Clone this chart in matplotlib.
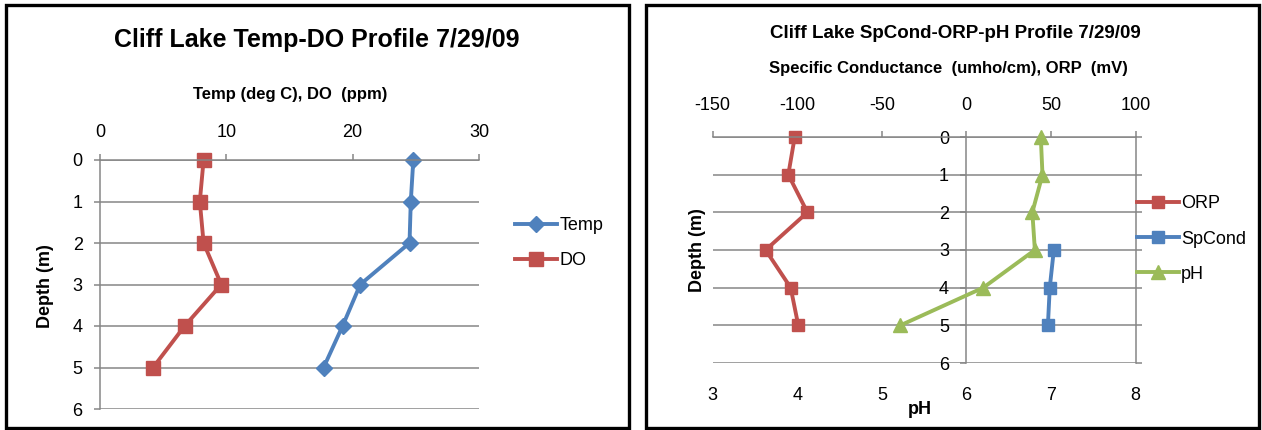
import matplotlib
matplotlib.use('Agg')
import matplotlib.pyplot as plt
from matplotlib.patches import Rectangle

#     *****     data     *****
depth = [0, 1, 2, 3, 4, 5]
temp = [24.8, 24.6, 24.5, 20.6, 19.2, 17.7]
do = [8.2, 7.9, 8.2, 9.6, 6.7, 4.2]

orp = [-101.5, -105.3, -94.0, -118.7, -103.9, -99.4]
spcond_depth = [3, 4, 5]
spcond = [51.7, 49.3, 48.2]
ph = [6.88, 6.90, 6.78, 6.81, 6.20, 5.22]

depth_ticks = [0, 1, 2, 3, 4, 5, 6]
left_xticks = [0, 10, 20, 30]
right_xticks = [-150, -100, -50, 0, 50, 100]
ph_ticks = [3, 4, 5, 6, 7, 8]

#     *****     style     *****
plt.rcParams['font.family'] = ['Liberation Sans', 'DejaVu Sans']
plt.rcParams['axes.unicode_minus'] = False
BLUE = '#4F81BD'
RED = '#C0504D'
GREEN = '#9BBB59'
GRID = '#868686'
W, H = 1262, 430

fig = plt.figure(figsize=(W / 100, H / 100), dpi=100)


def px_axes(x0, y0, x1, y1):
    # pixel box (top-left origin) -> figure axes
    return fig.add_axes([x0 / W, 1 - y1 / H, (x1 - x0) / W, (y1 - y0) / H])


def ftext(x, y, s, **kw):
    fig.text(x / W, 1 - y / H, s, ha='center', va='center', **kw)


# panel borders
for bx0, bx1 in [(6, 629), (646, 1259)]:
    fig.add_artist(Rectangle((bx0 / W, 1 - 428 / H), (bx1 - bx0) / W, 423 / H,
                             transform=fig.transFigure, fill=False,
                             edgecolor='black', linewidth=2.4))

#     *****     left chart     *****
ax = px_axes(100, 160, 479, 409)
ax.plot(temp, depth, color=BLUE, lw=2.8, marker='D', ms=8, label='Temp', clip_on=False)
ax.plot(do, depth, color=RED, lw=2.8, marker='s', ms=10, label='DO', clip_on=False)
ax.set_xlim(0, 30)
ax.set_ylim(6, 0)
ax.set_xticks(left_xticks)
ax.set_yticks(depth_ticks)
ax.xaxis.tick_top()
ax.grid(axis='y', color=GRID, lw=1.1)
ax.set_axisbelow(True)
for s in ['right', 'bottom']:
    ax.spines[s].set_visible(False)
for s in ['left', 'top']:
    ax.spines[s].set_color(GRID)
    ax.spines[s].set_linewidth(1.1)
ax.tick_params(axis='both', direction='out', length=4.5, width=1.1, color=GRID,
               labelsize=13, pad=8)
ax.tick_params(axis='x', pad=9)
ax.legend(loc='center left', bbox_to_anchor=(515 / W, 1 - 243 / H),
          bbox_transform=fig.transFigure, frameon=False, fontsize=13,
          handlelength=2.3, handletextpad=0.15, labelspacing=1.0, borderpad=0,
          borderaxespad=0)

ftext(317, 40, 'Cliff Lake Temp-DO Profile 7/29/09', fontsize=18, fontweight='bold')
ftext(290, 95, 'Temp (deg C), DO  (ppm)', fontsize=12, fontweight='bold')
ftext(46, 286, 'Depth (m)', fontsize=13, fontweight='bold', rotation=90)

#     *****     right chart     *****
bx = px_axes(712.7, 137, 1135.5, 363)
l1, = bx.plot(orp, depth, color=RED, lw=2.8, marker='s', ms=9, label='ORP', clip_on=False)
l2, = bx.plot(spcond, spcond_depth, color=BLUE, lw=2.8, marker='s', ms=9,
              label='SpCond', clip_on=False)
bx.set_xlim(-150, 100)
bx.set_ylim(6, 0)
bx.set_xticks(right_xticks)
bx.set_yticks(depth_ticks)

px = bx.twiny()
l3, = px.plot(ph, depth, color=GREEN, lw=2.8, marker='^', ms=10, label='pH', clip_on=False)
px.set_xlim(3, 8)
px.set_xticks(ph_ticks)
px.xaxis.tick_bottom()
px.tick_params(axis='x', length=0, labelsize=13, pad=17)
for s in px.spines.values():
    s.set_visible(False)

bx.xaxis.tick_top()
bx.yaxis.set_ticks_position('both')
bx.spines['left'].set_position(('data', 0))
bx.spines['bottom'].set_visible(False)
for s in ['left', 'top', 'right']:
    bx.spines[s].set_color(GRID)
    bx.spines[s].set_linewidth(1.1)
bx.grid(axis='y', color=GRID, lw=1.1)
bx.set_axisbelow(True)
bx.tick_params(axis='x', direction='out', length=4.5, width=1.1, color=GRID,
               labelsize=13, pad=12)
bx.tick_params(axis='y', direction='out', length=4.5, width=1.1, color=GRID,
               labelsize=13, pad=8)

bx.legend(handles=[l1, l2, l3], loc='center left',
          bbox_to_anchor=(1137 / W, 1 - 239 / H), bbox_transform=fig.transFigure,
          frameon=False, fontsize=13, handlelength=2.3, handletextpad=0.15,
          labelspacing=1.0, borderpad=0, borderaxespad=0)

ftext(955, 33, 'Cliff Lake SpCond-ORP-pH Profile 7/29/09', fontsize=13.5, fontweight='bold')
ftext(948, 68, 'Specific Conductance  (umho/cm), ORP  (mV)', fontsize=12, fontweight='bold')
ftext(697, 250, 'Depth (m)', fontsize=13, fontweight='bold', rotation=90)
ftext(920, 410, 'pH', fontsize=13, fontweight='bold')

fig.savefig('out.png', dpi=100)
